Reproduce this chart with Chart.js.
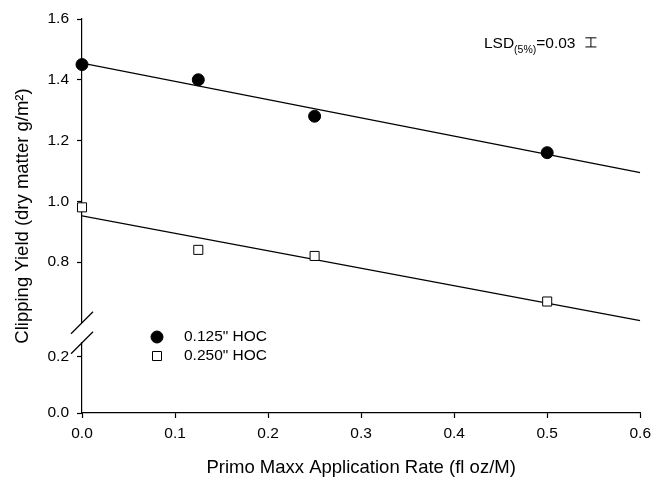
<!DOCTYPE html>
<html>
<head>
<meta charset="utf-8">
<script src="https://cdn.jsdelivr.net/npm/chart.js@4.4.1/dist/chart.umd.min.js"></script>
<style>
  html, body { margin: 0; padding: 0; background: #fff; }
  #wrap { width: 657px; height: 477px; }
</style>
</head>
<body>
<div id="wrap"><canvas id="graph"></canvas></div>
<script>
// Values
const RATES = [0, 0.125, 0.25, 0.5]
const YIELD_125 = [1.45, 1.40, 1.28, 1.16]
const YIELD_250 = [0.98, 0.84, 0.82, 0.67]
const SERIES_LABELS = ['0.125" HOC', '0.250" HOC']

// fitted lines, end points
const FIT_X = [0, 0.6]
const FIT_125 = [1.455, 1.094]
const FIT_250 = [0.952, 0.607]

// tick labels
const X_TICKS = [0, 0.1, 0.2, 0.3, 0.4, 0.5, 0.6]
const UPPER_TICKS = [0.8, 1.0, 1.2, 1.4, 1.6]
const LOWER_TICKS = [0.0, 0.2]

// LSD annotation
const LSD = 0.03
const LSD_AT = { x: 0.547, y: 1.523 }

const FONT = 'Liberation Sans, Arial, sans-serif'
const INK = '#000'

const toPoints = (xs, ys) => xs.map((x, i) => ({ x: x, y: ys[i] }))
const fixedTicks = (values) => (scale) => {
  scale.ticks = values.map((v) => ({ value: v }))
}

/**
 * Axis break marks, the legend inside the plot and the LSD bar.
 */
const decorations = {
  id: 'decorations',
  afterDraw(chart) {
    const ctx = chart.ctx
    const { x, yTop, yBot } = chart.scales
    const area = chart.chartArea
    ctx.save()

    // break marks on the y axis
    ctx.strokeStyle = INK
    ctx.lineWidth = 1.3
    ;[yTop.bottom, yBot.top].forEach((py) => {
      ctx.beginPath()
      ctx.moveTo(area.left - 11, py + 11)
      ctx.lineTo(area.left + 11, py - 11)
      ctx.stroke()
    })

    // legend
    const lx = area.left + 75
    const rows = [area.bottom - 76, area.bottom - 57]
    ctx.font = '15.5px ' + FONT
    ctx.textBaseline = 'middle'
    ctx.fillStyle = INK
    chart.data.datasets.slice(0, 2).forEach((ds, i) => {
      const py = rows[i]
      ctx.lineWidth = 1
      ctx.beginPath()
      if (ds.pointStyle === 'rect') {
        ctx.rect(lx - 4.5, py - 4.5, 9, 9)
      } else {
        ctx.arc(lx, py, 6, 0, Math.PI * 2)
      }
      ctx.fillStyle = ds.pointBackgroundColor
      ctx.fill()
      ctx.strokeStyle = ds.pointBorderColor
      ctx.stroke()
      ctx.fillStyle = INK
      ctx.fillText(ds.label, lx + 27, py)
    })

    // LSD bar, its length is the LSD in data units
    const bx = x.getPixelForValue(LSD_AT.x)
    const bTop = yTop.getPixelForValue(LSD_AT.y + LSD / 2)
    const bBot = yTop.getPixelForValue(LSD_AT.y - LSD / 2)
    ctx.lineWidth = 1
    ctx.strokeStyle = INK
    ctx.beginPath()
    ctx.moveTo(bx, bTop); ctx.lineTo(bx, bBot)
    ctx.moveTo(bx - 5.5, bTop); ctx.lineTo(bx + 5.5, bTop)
    ctx.moveTo(bx - 5.5, bBot); ctx.lineTo(bx + 5.5, bBot)
    ctx.stroke()

    const ty = (bTop + bBot) / 2 + 5.5
    let tx = bx - 107
    ctx.textBaseline = 'alphabetic'
    ctx.textAlign = 'left'
    ctx.font = '15.5px ' + FONT
    ctx.fillText('LSD', tx, ty)
    tx += ctx.measureText('LSD').width
    ctx.font = '10.5px ' + FONT
    ctx.fillText('(5%)', tx, ty + 5.5)
    tx += ctx.measureText('(5%)').width
    ctx.font = '15.5px ' + FONT
    ctx.fillText('=' + LSD.toFixed(2), tx, ty)

    ctx.restore()
  },
}

const tickFont = { family: FONT, size: 15.5 }
const titleFont = { family: FONT, size: 18.5 }

const stackedAxis = (min, max, weight, ticks, show) => ({
  type: 'linear',
  position: 'left',
  stack: 'left',
  stackWeight: weight,
  min: min,
  max: max,
  afterBuildTicks: fixedTicks(ticks),
  afterFit: (s) => { s.width = 35 },
  border: { display: show, color: INK, width: 1.2 },
  grid: { display: show, drawOnChartArea: false, tickLength: 5, color: INK, tickColor: INK, tickWidth: 1.2 },
  ticks: {
    display: show,
    color: INK,
    font: tickFont,
    padding: 8,
    callback: (v) => Number(v).toFixed(1),
  },
})

const ctx = document.getElementById('graph').getContext('2d')
const graph = new Chart(ctx, {
  type: 'scatter',
  data: {
    datasets: [
      {
        label: SERIES_LABELS[0],
        data: toPoints(RATES, YIELD_125),
        yAxisID: 'yTop',
        pointStyle: 'circle',
        pointRadius: 6,
        pointBackgroundColor: INK,
        pointBorderColor: INK,
        pointBorderWidth: 1,
        clip: false,
      },
      {
        label: SERIES_LABELS[1],
        data: toPoints(RATES, YIELD_250),
        yAxisID: 'yTop',
        pointStyle: 'rect',
        pointRadius: 6.4,
        pointBackgroundColor: '#fff',
        pointBorderColor: INK,
        pointBorderWidth: 1,
        clip: false,
      },
      {
        label: '',
        data: toPoints(FIT_X, FIT_125),
        yAxisID: 'yTop',
        showLine: true,
        borderColor: INK,
        borderWidth: 1.3,
        pointRadius: 0,
        order: 1,
      },
      {
        label: '',
        data: toPoints(FIT_X, FIT_250),
        yAxisID: 'yTop',
        showLine: true,
        borderColor: INK,
        borderWidth: 1.3,
        pointRadius: 0,
        order: 1,
      },
    ],
  },
  options: {
    responsive: true,
    maintainAspectRatio: false,
    animation: false,
    layout: { padding: { left: 0, right: 13, top: 19, bottom: 0 } },
    plugins: {
      legend: { display: false },
      tooltip: { enabled: false },
    },
    scales: {
      x: {
        type: 'linear',
        position: 'bottom',
        min: 0,
        max: 0.6,
        afterBuildTicks: fixedTicks(X_TICKS),
        afterFit: (s) => { s.height = 64 },
        border: { color: INK, width: 1.2 },
        grid: { drawOnChartArea: false, tickLength: 5, color: INK, tickColor: INK, tickWidth: 1.2 },
        ticks: {
          color: INK,
          font: tickFont,
          padding: 6,
          maxRotation: 0,
          callback: (v) => Number(v).toFixed(1),
        },
        title: {
          display: true,
          text: 'Primo Maxx Application Rate (fl oz/M)',
          color: INK,
          font: titleFont,
          padding: { top: 0, bottom: -2 },
        },
      },
      // the stack is laid out last-defined on top
      yBot: stackedAxis(0, 0.25, 70, LOWER_TICKS, true),
      yGap: stackedAxis(0.25, 0.6, 20, [], false),
      yTop: stackedAxis(0.6, 1.6, 303, UPPER_TICKS, true),
      yTitle: {
        type: 'linear',
        position: 'left',
        weight: 10,
        afterFit: (s) => { s.width = 47 },
        border: { display: false },
        grid: { display: false },
        ticks: { display: false },
        title: {
          display: true,
          text: 'Clipping Yield (dry matter g/m²)',
          color: INK,
          font: titleFont,
          padding: { top: 12, bottom: 0 },
        },
      },
    },
  },
  plugins: [decorations],
})
</script>
</body>
</html>
